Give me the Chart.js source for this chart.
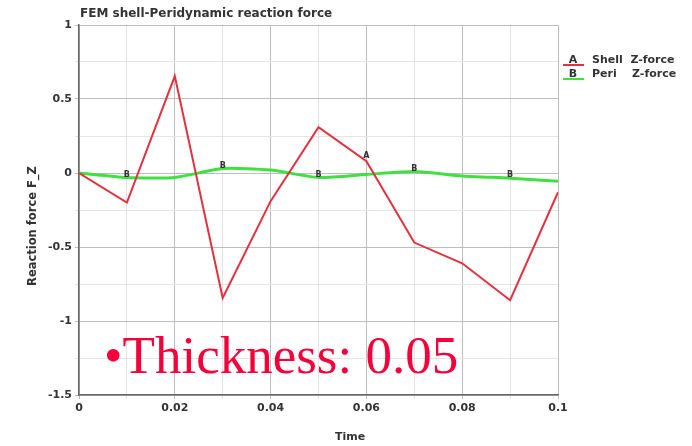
<!DOCTYPE html>
<html>
<head>
<meta charset="utf-8">
<script src="https://cdn.jsdelivr.net/npm/chart.js@4"></script>
<style>
	html, body { margin: 0; padding: 0; background: #fff; }
	#wrap { position: relative; width: 692px; height: 446px; }
	#note {
		position: absolute;
		left: 104px;
		top: 329px;
		font-family: "Liberation Serif", serif;
		font-size: 53px;
		color: #f5003a;
		white-space: nowrap;
		line-height: 1;
	}
</style>
</head>
<body>
<div id="wrap">
	<canvas id="chart" width="692" height="446"></canvas>
	<div id="note">&bull;Thickness: 0.05</div>
</div>
<script>
const TIMES = [0, 0.01, 0.02, 0.03, 0.04, 0.05, 0.06, 0.07, 0.08, 0.09, 0.1];
const SHELL_Z = [0, -0.2, 0.655, -0.845, -0.19, 0.31, 0.08, -0.47, -0.61, -0.86, -0.13];
const PERI_Z = [0, -0.03, -0.03, 0.03, 0.02, -0.03, -0.01, 0.01, -0.02, -0.035, -0.055];
const SHELL_MARKS = [6];
const PERI_MARKS = [1, 3, 5, 7, 9];
const TITLE = "FEM shell-Peridynamic reaction force";
const X_TITLE = "Time";
const Y_TITLE = "Reaction force F_Z";
const RED = "#e23240";
const GREEN = "#3fe03f";
const TEXT = "#333";

const toPoints = (ys) => TIMES.map((t, i) => ({ x: t, y: ys[i] }));

// title, axis titles, letter markers and the side legend
const extras = {
	id: "extras",
	afterDatasetsDraw(chart) {
		const ctx = chart.ctx;
		const xs = chart.scales.x;
		const ys = chart.scales.y;
		ctx.save();
		ctx.fillStyle = TEXT;
		ctx.font = "bold 12px 'DejaVu Sans'";
		ctx.textBaseline = "middle";
		ctx.textAlign = "left";
		ctx.fillText(TITLE, 80, 14);

		ctx.font = "bold 11px 'DejaVu Sans'";
		ctx.textAlign = "center";
		ctx.fillText(X_TITLE, 350, 437);
		ctx.save();
		ctx.translate(33, 226);
		ctx.rotate(-Math.PI / 2);
		ctx.font = "bold 11.5px 'DejaVu Sans'";
		ctx.fillText(Y_TITLE, 0, 0);
		ctx.restore();

		ctx.font = "bold 8px 'DejaVu Sans'";
		for (var i of SHELL_MARKS) {
			ctx.fillText("A", xs.getPixelForValue(TIMES[i]), ys.getPixelForValue(SHELL_Z[i]) - 5);
		}
		for (var i of PERI_MARKS) {
			ctx.fillText("B", xs.getPixelForValue(TIMES[i]), ys.getPixelForValue(PERI_Z[i]) - 3);
		}

		var rows = [
			["A", "Shell  Z-force", RED, 60],
			["B", "Peri    Z-force", GREEN, 74],
		];
		for (var r of rows) {
			ctx.strokeStyle = r[2];
			ctx.lineWidth = 2;
			ctx.beginPath();
			ctx.moveTo(563, r[3] + 5);
			ctx.lineTo(584, r[3] + 5);
			ctx.stroke();
			ctx.fillStyle = TEXT;
			ctx.font = "bold 11px 'DejaVu Sans'";
			ctx.textAlign = "center";
			ctx.fillText(r[0], 573, r[3]);
			ctx.textAlign = "left";
			ctx.fillText(r[1], 592, r[3]);
		}
		ctx.restore();
	},
};

const isMajor = (v, step) => Math.abs(v / step - Math.round(v / step)) < 1e-6;

new Chart(document.getElementById("chart"), {
	type: "line",
	data: {
		datasets: [
			{
				label: "Shell Z-force",
				data: toPoints(SHELL_Z),
				borderColor: RED,
				borderWidth: 2,
				pointRadius: 0,
				tension: 0,
			},
			{
				label: "Peri Z-force",
				data: toPoints(PERI_Z),
				borderColor: GREEN,
				borderWidth: 3,
				pointRadius: 0,
				tension: 0.2,
			},
		],
	},
	plugins: [extras],
	options: {
		responsive: false,
		animation: false,
		layout: { padding: { left: 0, right: 134, top: 25, bottom: 0 } },
		plugins: {
			legend: { display: false },
			title: { display: false },
			tooltip: { enabled: false },
		},
		scales: {
			x: {
				type: "linear",
				min: 0,
				max: 0.1,
				afterFit: (s) => { s.height = 51; },
				ticks: {
					stepSize: 0.01,
					autoSkip: false,
					maxRotation: 0,
					padding: 3,
					color: TEXT,
					font: { family: "DejaVu Sans", size: 11, weight: "bold" },
					callback: (v) => (isMajor(v, 0.02) ? String(Math.round(v * 100) / 100) : ""),
				},
				grid: {
					tickLength: 4,
					color: (c) => (isMajor(c.tick.value, 0.02) ? "#bdbdbd" : "#e4e4e4"),
				},
				border: { color: "#666", width: 1.5 },
			},
			y: {
				min: -1.5,
				max: 1,
				afterFit: (s) => { s.width = 79; },
				ticks: {
					stepSize: 0.25,
					autoSkip: false,
					padding: 3,
					color: TEXT,
					font: { family: "DejaVu Sans", size: 11, weight: "bold" },
					callback: (v) => (isMajor(v, 0.5) ? String(v) : ""),
				},
				grid: {
					tickLength: 4,
					color: (c) => (isMajor(c.tick.value, 0.5) ? "#bdbdbd" : "#e4e4e4"),
				},
				border: { color: "#666", width: 1.5 },
			},
		},
	},
});
</script>
</body>
</html>
